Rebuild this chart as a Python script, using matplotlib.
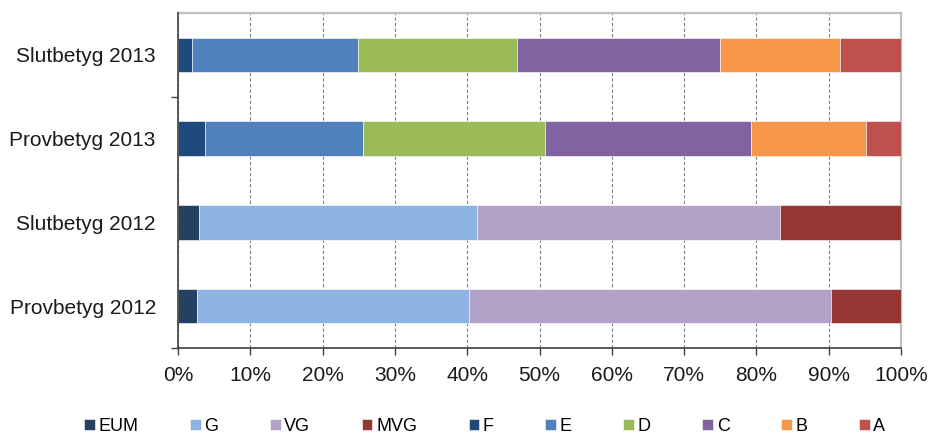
import matplotlib
matplotlib.use("Agg")
import matplotlib.pyplot as plt
from matplotlib.ticker import FuncFormatter
import numpy as np

plt.rcParams['font.family'] = ['Liberation Sans', 'DejaVu Sans']

# rows from bottom to top
categories = ["Provbetyg 2012", "Slutbetyg 2012", "Provbetyg 2013", "Slutbetyg 2013"]

grades = ["EUM", "G", "VG", "MVG", "F", "E", "D", "C", "B", "A"]
eum = [2.6, 2.9, 0, 0]
g = [37.7, 38.5, 0, 0]
vg = [50.0, 41.9, 0, 0]
mvg = [9.7, 16.7, 0, 0]
f = [0, 0, 3.8, 1.9]
e = [0, 0, 21.8, 23.0]
d = [0, 0, 25.2, 22.0]
c = [0, 0, 28.4, 28.0]
b = [0, 0, 15.9, 16.7]
a = [0, 0, 4.9, 8.4]
values = [eum, g, vg, mvg, f, e, d, c, b, a]

colors = ["#254061", "#8DB3E2", "#B3A2C7", "#953735", "#1F497D",
          "#4F81BD", "#9BBB59", "#8064A2", "#F79646", "#C0504D"]

fig = plt.figure(figsize=(9.32, 4.36), dpi=100)
ax = fig.add_axes([178 / 932, 1 - 348 / 436, (901 - 178) / 932, (348 - 13) / 436])

y = np.arange(len(categories))
left = np.zeros(len(categories))
for name, vals, col in zip(grades, values, colors):
    vals = np.array(vals, dtype=float)
    ax.barh(y, vals, left=left, height=0.41, color=col, edgecolor="white",
            linewidth=0.4, label=name, zorder=3)
    left += vals

ax.set_xlim(0, 100)
ax.set_ylim(-0.5, 3.5)
ax.set_xticks(np.arange(0, 101, 10))
ax.xaxis.set_major_formatter(FuncFormatter(lambda v, p: f"{int(v)}%"))
ax.grid(axis="x", color="#808080", linestyle=(0, (3, 2)), linewidth=0.8, zorder=0)

# category labels without tick marks, ticks only at boundaries
ax.set_yticks(y)
ax.set_yticklabels(categories)
ax.tick_params(axis="y", length=0, pad=16, labelsize=15, labelcolor="#1a1a1a")
ax.set_yticks([-0.5, 2.5], minor=True)
ax.tick_params(axis="y", which="minor", length=5, width=1, color="#404040")
ax.tick_params(axis="x", length=5, width=1, color="#404040", labelsize=15,
               labelcolor="#1a1a1a", pad=8)

for s in ["left", "bottom"]:
    ax.spines[s].set_color("#404040")
    ax.spines[s].set_linewidth(1.2)
    ax.spines[s].set_zorder(4)
for s in ["top", "right"]:
    ax.spines[s].set_color("#BFBFBF")
    ax.spines[s].set_linewidth(1.6)

leg = fig.legend(loc="center", bbox_to_anchor=(0.52, 0.022), ncol=10, frameon=False,
                 fontsize=13, handlelength=0.6, handleheight=0.6, handletextpad=0.2,
                 columnspacing=2.85)

fig.savefig("out.png", dpi=100)
